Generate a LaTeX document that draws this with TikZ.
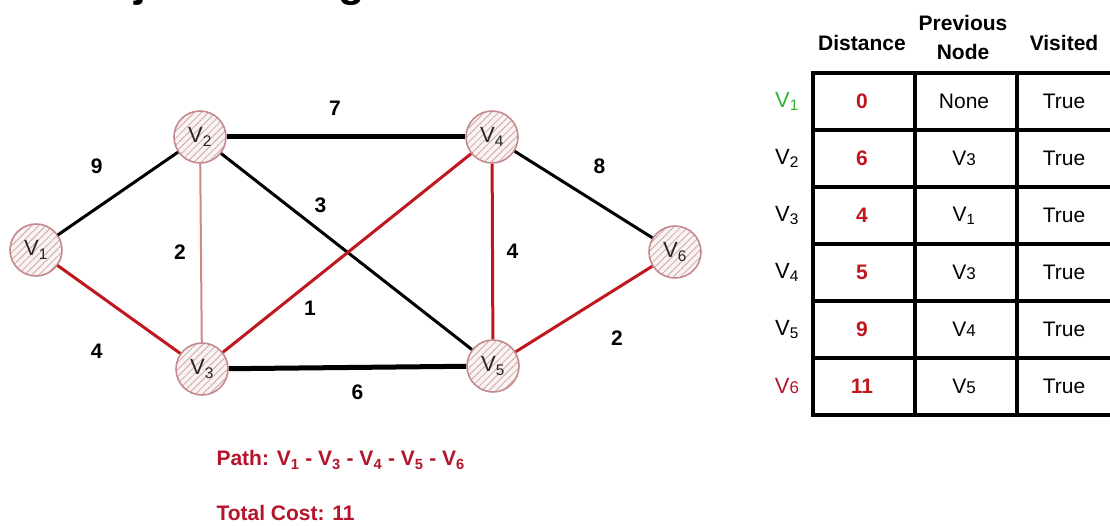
\documentclass[tikz,border=0pt]{standalone}
\usepackage{fontspec}
\setmainfont{Liberation Sans}
\usepackage{tikz}
\usetikzlibrary{patterns.meta}

\definecolor{pathred}{HTML}{C0171F}
\definecolor{faintred}{HTML}{C98A8A}
\definecolor{ringcol}{HTML}{C48A8E}
\definecolor{hatchcol}{HTML}{C9A9AB}
\definecolor{fillcol}{HTML}{FBF2F2}
\definecolor{textred}{HTML}{B3152B}
\definecolor{startgreen}{HTML}{33B533}

\newcommand{\vsub}[1]{V\textsubscript{#1}}
\newcommand{\vflat}[1]{V{\fontsize{17}{17}\selectfont #1}}

\begin{document}
\begin{tikzpicture}[x=1pt,y=-1pt,
  vertex/.style={circle,draw=ringcol,line width=1.6pt,minimum size=52pt,inner sep=0pt,
    preaction={fill=fillcol},pattern={Lines[angle=45,distance=5pt,line width=0.8pt]},
    pattern color=hatchcol,text=black!85,font=\fontsize{22}{22}\selectfont},
  plain/.style={line width=3pt,black},
  heavy/.style={line width=5pt,black},
  redge/.style={line width=3pt,pathred},
  faint/.style={line width=2pt,faintred},
  wlabel/.style={text=black,font=\bfseries\fontsize{21}{21}\selectfont},
  grid/.style={line width=4pt,black},
  cell/.style={font=\fontsize{21}{21}\selectfont}]
  \useasboundingbox (0,0) rectangle (1110,526);
  \clip (0,0) rectangle (1110,526);

  % title, only its lower edge shows
  \node[anchor=base west,inner sep=0pt,font=\bfseries\fontsize{43}{43}\selectfont] (title) at (91,-3) {Dijkstra's Algorithm};

  % graph
  \node[vertex] (v1) at (36,250) {\vsub{1}};
  \node[vertex] (v2) at (200,137) {\vsub{2}};
  \node[vertex] (v3) at (202,369) {\vsub{3}};
  \node[vertex] (v4) at (492,137) {\vsub{4}};
  \node[vertex] (v5) at (493,366) {\vsub{5}};
  \node[vertex] (v6) at (675,252) {\vsub{6}};

  \draw[plain] (v1) -- node[wlabel,shift={(-21,-27)}] {9} (v2);
  \draw[redge] (v1) -- node[wlabel,shift={(-22,42)}] {4} (v3);
  \draw[faint] (v2) -- node[wlabel,shift={(-21,-1)}] {2} (v3);
  \draw[heavy] (v2) -- node[wlabel,shift={(-11,-29)}] {7} (v4);
  \draw[plain] (v2) -- node[wlabel,shift={(-26,-46)}] {3} (v5);
  \draw[redge] (v3) -- node[wlabel,shift={(-37,55)}] {1} (v4);
  \draw[heavy] (v3) -- node[wlabel,shift={(10,25)}] {6} (v5);
  \draw[redge] (v4) -- node[wlabel,shift={(20,0)}] {4} (v5);
  \draw[plain] (v4) -- node[wlabel,shift={(16,-28)}] {8} (v6);
  \draw[redge] (v5) -- node[wlabel,shift={(33,29)}] {2} (v6);

  \node[anchor=west,text=textred,font=\bfseries\fontsize{21}{21}\selectfont] (path) at (213,460)
    {Path: \vsub{1} - \vsub{3} - \vsub{4} - \vsub{5} - \vsub{6}};
  \node[anchor=west,text=textred,font=\bfseries\fontsize{21}{21}\selectfont] (cost) at (213,513)
    {Total Cost: 11};

  % table
  \node[font=\bfseries\fontsize{21}{21}\selectfont] (hdist) at (862,43) {Distance};
  \node[font=\bfseries\fontsize{21}{29}\selectfont,align=center] (hprev) at (963,37) {Previous\\Node};
  \node[font=\bfseries\fontsize{21}{21}\selectfont] (hvis) at (1064,43) {Visited};
  \foreach \yy in {73,130,...,415}
    \draw[grid] (811,\yy) -- (1112,\yy);
  \foreach \xx in {813,915,1017}
    \draw[grid] (\xx,71) -- (\xx,417);
  \foreach \lab/\col/\dist/\prev [count=\i] in
      {{\vsub{1}}/startgreen/0/None, {\vsub{2}}/black/6/{\vflat{3}},
       {\vsub{3}}/black/4/{\vsub{1}}, {\vsub{4}}/black/5/{\vflat{3}},
       {\vsub{5}}/black/9/{\vflat{4}}, {\vflat{6}}/textred/11/{\vflat{5}}} {
    \node[cell,text=\col,font=\fontsize{22}{22}\selectfont] (row\i) at (787,{44.5+57*\i}) {\lab};
    \node[cell,text=pathred,font=\bfseries\fontsize{21}{21}\selectfont] (dist\i) at (862,{44.5+57*\i}) {\dist};
    \node[cell] (prev\i) at (964,{44.5+57*\i}) {\prev};
    \node[cell] (vis\i) at (1064,{44.5+57*\i}) {True};
  }
\end{tikzpicture}
\end{document}
